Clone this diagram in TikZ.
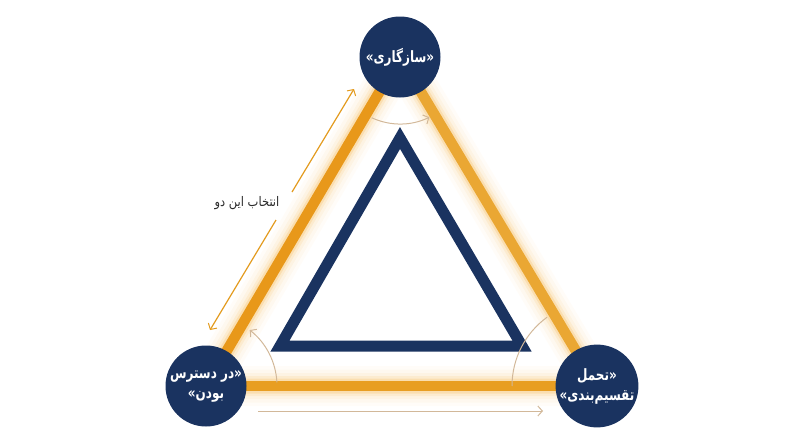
\documentclass[tikz,border=0pt]{standalone}
\usepackage{fontspec}
\usepackage{graphicx}
\usetikzlibrary{arrows.meta,calc}
\TeXXeTstate=1
\newfontfamily\fa[Script=Arabic]{DejaVu Sans}
\newcommand{\tallfa}[1]{\scalebox{1}[1.3]{\beginR #1\endR}}
\definecolor{navy}{HTML}{1A3360}
\definecolor{orA}{HTML}{E8981A}
\definecolor{orB}{HTML}{EAA733}
\definecolor{orC}{HTML}{E89E22}
\definecolor{glow}{HTML}{F4B040}
\definecolor{tan}{HTML}{D2B899}
\definecolor{arrowor}{HTML}{E39B1F}
\definecolor{lbl}{HTML}{2B2B2B}
\pgfdeclarelayer{bg}
\pgfsetlayers{bg,main}
\tikzset{
  circ/.style={circle, fill=navy, minimum size=81pt, inner sep=0pt, text=white,
    align=center, font=\fa\bfseries\fontsize{12}{20}\selectfont},
  gl/.style={line width=#1, glow, line cap=round},
  edgeline/.style={line width=10.5pt, line cap=butt},
  thinarc/.style={tan, line width=1pt},
  tip/.style={-{Straight Barb[length=4.5pt,width=10pt,line width=1pt]}},
}
\begin{document}
\begin{tikzpicture}[x=1pt,y=-1pt]
\useasboundingbox (0,0) rectangle (800,447);
% vertex circles
\node[circ] (cons) at (400,57) {\tallfa{«سازگاری»}};
\node[circ] (avail) at (206,386) {\tallfa{«در دسترس}\\\tallfa{بودن»}};
\node[circ] (part) at (597,386) {\tallfa{«تحمل}\\\tallfa{تقسیم^^^^200cبندی»}};
% orange edges with glow
\begin{pgfonlayer}{bg}
  \foreach \w/\o in {40/0.035,33/0.05,26/0.07,20/0.12,15/0.22}{
    \draw[gl=\w pt, opacity=\o] (cons.center) -- (avail.center) -- (part.center) -- cycle;
  }
  \draw[edgeline, orA] (cons.center) -- (avail.center);
  \draw[edgeline, orB] (cons.center) -- (part.center);
  \draw[edgeline, orC] (avail.center) -- (part.center);
\end{pgfonlayer}
% inner navy triangle
\coordinate (n1) at (400,138);
\coordinate (n2) at (280,346);
\coordinate (n3) at (522,346);
\draw[navy, line width=11pt, line join=miter] (n1) -- (n2) -- (n3) -- cycle;
% angle arcs
\draw[thinarc, tip] ([shift={(115:67)}]cons.center) arc[start angle=115, end angle=64, radius=67];
\draw[thinarc, tip] ([shift={(-3:71)}]avail.center) arc[start angle=-3, end angle=-52, radius=71];
\draw[thinarc] ([shift={(180:85)}]part.center) arc[start angle=180, end angle=234, radius=85];
% bottom arrow
\coordinate (b1) at (258,411);
\coordinate (b2) at (543,411);
\draw[thinarc, tip] (b1) -- (b2);
% left double arrow with label
\coordinate (d1) at (210,330);
\coordinate (d2) at (354,89);
\coordinate (g1) at (276,220);
\coordinate (g2) at (292,192);
\draw[arrowor, line width=1.2pt, {Straight Barb[length=4.5pt,width=10pt,line width=1pt]}-] (d1) -- (g1);
\draw[arrowor, line width=1.2pt, -{Straight Barb[length=4.5pt,width=10pt,line width=1pt]}] (g2) -- (d2);
\node[text=lbl, font=\fa\fontsize{11.5}{13}\selectfont] (lab) at (247,203) {\scalebox{1}[1.15]{\beginR انتخاب این دو\endR}};
\end{tikzpicture}
\end{document}
